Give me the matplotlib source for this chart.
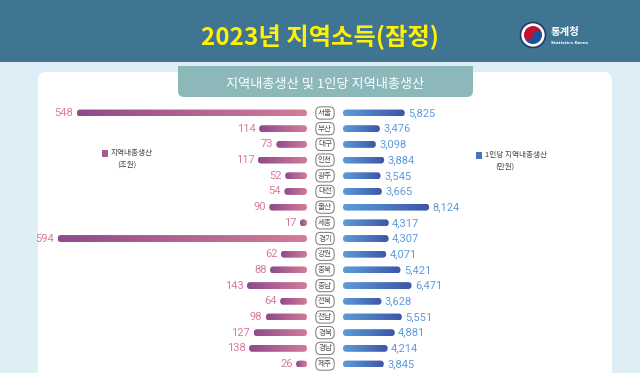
import numpy as np
import matplotlib.pyplot as plt
import matplotlib.transforms as mtransforms
from matplotlib import font_manager
from matplotlib.colors import LinearSegmentedColormap
from matplotlib.patches import FancyBboxPatch, Rectangle, Circle, Wedge

regions = ["서울", "부산", "대구", "인천", "광주", "대전", "울산", "세종", "경기",
           "강원", "충북", "충남", "전북", "전남", "경북", "경남", "제주"]
grdp = [548, 114, 73, 117, 52, 54, 90, 17, 594, 62, 88, 143, 64, 98, 127, 138, 26]
per_capita = [5825, 3476, 3098, 3884, 3545, 3665, 8124, 4317, 4307, 4071,
              5421, 6471, 3628, 5551, 4881, 4214, 3845]

title = "2023년 지역소득(잠정)"
subtitle = "지역내총생산 및 1인당 지역내총생산"

plt.rcParams['font.family'] = ['Noto Sans CJK KR', 'DejaVu Sans']
names = {f.name for f in font_manager.fontManager.ttflist}
num_font = 'Liberation Sans Narrow' if 'Liberation Sans Narrow' in names else 'Roboto'

W, H = 640, 373
fig = plt.figure(figsize=(6.4, 3.73), dpi=100)

# background / decoration in pixel coords
bg = fig.add_axes([0, 0, 1, 1])
bg.set_xlim(0, W)
bg.set_ylim(H, 0)
bg.axis('off')
bg.add_patch(Rectangle((0, 0), W, H, fc='#DDEEF7', ec='none'))
bg.add_patch(Rectangle((0, 0), W, 62, fc='#3F7592', ec='none'))
bg.add_patch(FancyBboxPatch((38, 72), 574, 330, boxstyle="round,pad=0,rounding_size=8",
                            fc='white', ec='none'))
bg.add_patch(FancyBboxPatch((178, 66), 295, 31, boxstyle="round,pad=0,rounding_size=6",
                            fc='#8DB8BA', ec='none'))
bg.add_patch(Rectangle((178, 66), 295, 8, fc='#8DB8BA', ec='none'))
bg.text(320, 37, title, color='#FFF200', fontsize=17.5, ha='center', va='center',
        fontweight='bold')
bg.text(325, 84.5, subtitle, color='white', fontsize=9.5, ha='center', va='center')

# logo
bg.add_patch(Circle((533, 35), 12.5, fc='white', ec='#1F3A6B', lw=1.2))
bg.add_patch(Wedge((533, 35), 9, 180, 360, fc='#C8102E', ec='none'))
bg.add_patch(Wedge((533, 35), 9, 0, 180, fc='#1F4E9A', ec='none'))
bg.add_patch(Circle((528.5, 35), 4.5, fc='#C8102E', ec='none'))
bg.add_patch(Circle((537.5, 35), 4.5, fc='#1F4E9A', ec='none'))
bg.text(551, 31.5, "통계청", color='white', fontsize=7.5, fontweight='bold', va='center')
bg.text(551, 43, "Statistics Korea", color='white', fontsize=3, va='center',
        family='DejaVu Sans', fontweight='bold')

# rows
row0, step = 113, 15.69
ylim = ((H - row0) / step, -row0 / step)
bar_h = 0.44

left_px = (40, 307)
right_px = (343, 612)
left_scale = 0.42      # px per 조원
right_scale = 0.0106   # px per 만원

axL = fig.add_axes([left_px[0] / W, 0, (left_px[1] - left_px[0]) / W, 1])
axR = fig.add_axes([right_px[0] / W, 0, (right_px[1] - right_px[0]) / W, 1])
xlimL = ((left_px[1] - left_px[0]) / left_scale, 0)
xlimR = (0, (right_px[1] - right_px[0]) / right_scale)
for ax in (axL, axR):
    ax.patch.set_visible(False)
    ax.axis('off')

pink = LinearSegmentedColormap.from_list('pink', ['#D47C98', '#8E4A8C'])
blue = LinearSegmentedColormap.from_list('blue', ['#5C9DD8', '#3D55A8'])
grad = np.linspace(0, 1, 256).reshape(1, -1)


def grad_bar(ax, v, yc, cmap, ppx):
    r = min(bar_h * step / 2 / ppx, v / 2)
    m = (bar_h / 2) / r
    patch = FancyBboxPatch((0, yc - bar_h / 2), v, bar_h,
                           boxstyle=f"round,pad=0,rounding_size={r}",
                           mutation_aspect=m, fc='none', ec='none')
    ax.add_patch(patch)
    im = ax.imshow(grad, extent=(0, v, yc + bar_h / 2, yc - bar_h / 2), cmap=cmap,
                   aspect='auto', interpolation='bilinear', zorder=2)
    im.set_clip_path(patch)


for i, (name, g, p) in enumerate(zip(regions, grdp, per_capita)):
    grad_bar(axL, g, i, pink, left_scale)
    grad_bar(axR, p, i, blue, right_scale)
    axL.annotate(f"{g}", (g, i), xytext=(-2.5, 0), textcoords='offset points',
                 ha='right', va='center', color='#D9799E', fontsize=8, family=num_font)
    axR.annotate(f"{p:,}", (p, i), xytext=(2.5, 0), textcoords='offset points',
                 ha='left', va='center', color='#5F9BDC', fontsize=8, family=num_font)

trans = mtransforms.blended_transform_factory(fig.transFigure, axL.transData)
for i, name in enumerate(regions):
    axL.text(325 / W, i, name, transform=trans, ha='center', va='center',
             fontsize=5.5, color='#555555', clip_on=False,
             bbox=dict(boxstyle='round,pad=0.28,rounding_size=0.6', fc='white',
                       ec='#777777', lw=0.7))

for ax, xl in ((axL, xlimL), (axR, xlimR)):
    ax.set_xlim(xl)
    ax.set_ylim(ylim)

# legends
bg.add_patch(Rectangle((102, 150), 6, 7, fc='#A85A90', ec='none'))
bg.text(111, 153.5, "지역내총생산", fontsize=5.5, color='#444444', va='center')
bg.text(127, 164.5, "(조원)", fontsize=5.5, color='#444444', va='center', ha='center')
bg.add_patch(Rectangle((476, 152), 6, 7, fc='#4A72C0', ec='none'))
bg.text(485, 155.5, "1인당 지역내총생산", fontsize=5.5, color='#444444', va='center')
bg.text(505, 166.5, "(만원)", fontsize=5.5, color='#444444', va='center', ha='center')

fig.savefig('out.png', dpi=100)
